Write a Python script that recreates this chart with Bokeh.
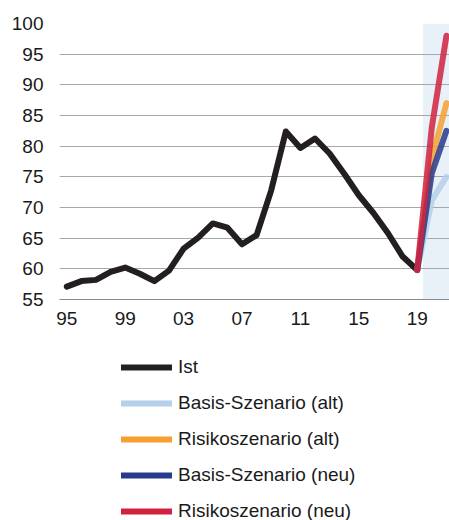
from bokeh.plotting import figure
from bokeh.models import Range1d, FixedTicker, Legend, LegendItem
from bokeh.layouts import column
from bokeh.embed import file_html
from bokeh.resources import INLINE

# ---- data ----
years_ist = list(range(1995, 2020))
ist = [57.1, 58.0, 58.2, 59.5, 60.2, 59.2, 58.0, 59.7, 63.3, 65.1, 67.4, 66.7,
       64.0, 65.5, 72.8, 82.4, 79.7, 81.25, 78.8, 75.5, 72.0, 69.1, 65.8, 62.0, 59.8]

years_scen = [2019, 2020, 2021]
basis_alt = [59.8, 71.2, 75.0]
risiko_alt = [59.8, 78.0, 87.0]
basis_neu = [59.8, 75.6, 82.5]
risiko_neu = [59.8, 83.1, 98.0]

forecast_start = 2019.4
x_ticks = [1995, 1999, 2003, 2007, 2011, 2015, 2019]
x_tick_labels = ["95", "99", "03", "07", "11", "15", "19"]
y_ticks = [55, 60, 65, 70, 75, 80, 85, 90, 95, 100]

labels = ["Ist", "Basis-Szenario (alt)", "Risikoszenario (alt)",
          "Basis-Szenario (neu)", "Risikoszenario (neu)"]
colors = ["#231f20", "#b4d0ea", "#f5a030", "#283a8c", "#d0223f"]

FONT = "Liberation Sans"
FS = "19px"
X0, X1 = 1994.5, 2021.21
Y0, Y1 = 55, 100

p = figure(width=449, height=338, x_range=Range1d(X0, X1), y_range=Range1d(Y0, Y1),
           output_backend="svg", toolbar_location=None,
           min_border_left=59, min_border_right=0, min_border_top=23, min_border_bottom=39)
p.outline_line_color = None
p.background_fill_color = "white"

# forecast shading
p.quad(left=[forecast_start], right=[X1], bottom=[Y0], top=[Y1],
       fill_color="#e9f1f8", line_color=None, level="image")

p.xgrid.visible = False
p.ygrid.ticker = FixedTicker(ticks=y_ticks)
p.ygrid.grid_line_color = "#a8a8a8"
p.ygrid.grid_line_width = 1

p.yaxis.ticker = FixedTicker(ticks=y_ticks)
p.xaxis.ticker = FixedTicker(ticks=x_ticks)
p.xaxis.major_label_overrides = {t: l for t, l in zip(x_ticks, x_tick_labels)}
for ax in (p.xaxis[0], p.yaxis[0]):
    ax.major_tick_line_color = None
    ax.minor_tick_line_color = None
    ax.major_tick_out = 0
    ax.major_tick_in = 0
    ax.major_label_text_font = FONT
    ax.major_label_text_font_size = FS
    ax.major_label_text_color = "#1a1a1a"
p.yaxis.axis_line_color = None
p.xaxis.axis_line_color = "#8a8a8a"
p.yaxis.major_label_standoff = 16
p.xaxis.major_label_standoff = 12

p.line(years_ist, ist, line_color=colors[0], line_width=6,
       line_join="round", line_cap="round")
for vals, c in zip([basis_alt, risiko_alt, basis_neu, risiko_neu], colors[1:]):
    p.line(years_scen, vals, line_color=c, line_width=6, line_alpha=0.85,
           line_join="round", line_cap="round")

# legend figure (frame aligned with the chart frame by the column layout)
lf = figure(width=449, height=182, output_backend="svg", toolbar_location=None,
            x_range=Range1d(0, 1), y_range=Range1d(0, 1),
            x_axis_type=None, y_axis_type=None, min_border=0)
lf.outline_line_color = None
lf.grid.visible = False
nan = float("nan")
items = []
for lab, c in zip(labels, colors):
    r = lf.line([nan], [nan], line_color=c, line_width=6, line_cap="round")
    items.append(LegendItem(label=lab, renderers=[r]))
leg = Legend(items=items, location=(62, -2), orientation="vertical",
             glyph_width=51, glyph_height=22, label_height=22, spacing=14,
             padding=0, margin=0, border_line_color=None, background_fill_alpha=0,
             label_standoff=6, label_text_font=FONT, label_text_font_size=FS,
             label_text_color="#1a1a1a")
lf.add_layout(leg)

layout = column(p, lf, spacing=0)
open("out.html", "w").write(file_html(layout, INLINE))
